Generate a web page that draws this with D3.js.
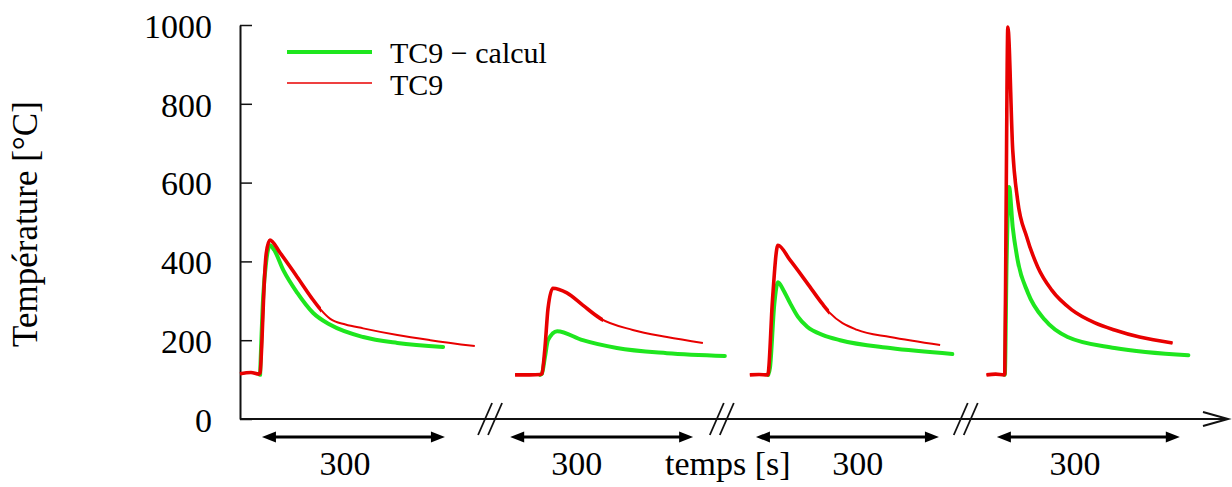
<!DOCTYPE html>
<html>
<head>
<meta charset="utf-8">
<script src="https://cdn.jsdelivr.net/npm/d3@7"></script>
<style>
  html, body { margin: 0; padding: 0; background: #fff; }
  svg { display: block; }
  text { font-family: "Liberation Serif", "Times New Roman", serif; fill: #000; }
</style>
</head>
<body>
<svg id="chart" width="1232" height="487"></svg>
<script>
// ---- Data (time in s relative to start of heating in each test, temperature in °C) ----
const yTicks = [0, 200, 400, 600, 800, 1000];
const seriesNames = ["TC9 \u2212 calcul", "TC9"];
const segmentOffsets = [33, 495, 866, 1254];     // position of each test on the broken time axis [s]
const breakPositions = [410, 790, 1190];        // axis breaks [s]
const arrowStarts = [36, 443, 846, 1241];       // start of each 300 s span [s]
const arrowSpan = 300;
const spanLabels = ["300", "300", "300", "300"];
const spanLabelPos = [172, 552, 1013, 1369];
const noisyUntil = [100, 100, 100, 280];        // measured signal visibly noisy up to this time [s]

// Measured (TC9)
const measT1 = [-33, -15, -2, 0, 3, 6, 10, 16, 33, 61, 87, 98, 115, 140, 169, 225, 279, 352];
const measV1 = [115, 118, 114, 118, 200, 320, 420, 454, 421, 360, 302, 280, 254, 240, 230, 213, 200, 185];
const measT2 = [-44, -20, -2, 0, 5, 10, 18, 41, 67, 95, 149, 205, 264];
const measV2 = [112, 112, 113, 115, 180, 280, 332, 320, 289, 256, 226, 208, 193];
const measT3 = [-30, -15, -1, 0, 7, 16, 36, 64, 90, 102, 146, 200, 282];
const measV3 = [112, 113, 112, 115, 300, 441, 403, 345, 290, 268, 226, 208, 188];
const measT4 = [-30, -15, -1, 0, 2, 5, 13, 21, 36, 54, 77, 110, 148, 180, 221, 275];
const measV4 = [112, 114, 112, 115, 500, 995, 683, 556, 462, 386, 327, 277, 244, 226, 208, 193];

// Computed (TC9 - calcul)
const calcT1 = [0, 5, 10, 16, 23, 38, 61, 87, 115, 169, 225, 300];
const calcV1 = [112, 310, 400, 441, 429, 378, 320, 269, 239, 208, 193, 183];
const calcT2 = [-3, 0, 5, 10, 25, 67, 123, 205, 300];
const calcV2 = [112, 115, 157, 200, 223, 200, 180, 167, 160];
const calcT3 = [0, 3, 10, 16, 25, 36, 49, 64, 90, 118, 200, 302];
const calcV3 = [112, 130, 290, 347, 327, 294, 259, 234, 213, 200, 180, 165];
const calcT4 = [-1, 0, 3, 7, 13, 21, 38, 66, 103, 180, 301];
const calcV4 = [112, 112, 400, 589, 487, 404, 320, 251, 208, 180, 162];

const measured = [[measT1, measV1], [measT2, measV2], [measT3, measV3], [measT4, measV4]];
const computed = [[calcT1, calcV1], [calcT2, calcV2], [calcT3, calcV3], [calcT4, calcV4]];

// ---- Layout ----
const svg = d3.select("#chart");
const colors = { calc: "#1ee61e", meas: "#e80000" };
const x = d3.scaleLinear().domain([0, 1620]).range([240, 1228]);
const y = d3.scaleLinear().domain([0, 1000]).range([419, 25]);
const FS = 34;

// ---- Y axis ----
const yAxis = d3.axisLeft(y)
  .tickValues(yTicks)
  .tickSizeInner(-12)
  .tickSizeOuter(0)
  .tickPadding(28)
  .tickFormat(d3.format("d"));
const gy = svg.append("g").attr("transform", `translate(${x(0)},0)`).call(yAxis);
gy.select(".domain").attr("stroke", "#111").attr("stroke-width", 2);
gy.selectAll(".tick line").attr("stroke", "#111").attr("stroke-width", 1.5);
gy.selectAll(".tick text")
  .attr("font-size", FS)
  .attr("font-family", "'Liberation Serif', 'Times New Roman', serif")
  .attr("fill", "#000")
  .attr("dy", "0.36em");

svg.append("text")
  .attr("transform", `translate(37,${(y(0) + y(1000)) / 2 + 2}) rotate(-90)`)
  .attr("text-anchor", "middle")
  .attr("font-size", 35)
  .text("Température [°C]");

// ---- X axis (broken time axis with arrow) ----
const axisY = y(0);
svg.append("line")
  .attr("x1", x(0)).attr("x2", x(1620) - 1)
  .attr("y1", axisY).attr("y2", axisY)
  .attr("stroke", "#111").attr("stroke-width", 2);
svg.append("path")
  .attr("d", `M${x(1620) - 25},${axisY - 7} L${x(1620)},${axisY} L${x(1620) - 25},${axisY + 7}`)
  .attr("fill", "none").attr("stroke", "#111").attr("stroke-width", 2);

breakPositions.forEach(b => {
  const cx = x(b);
  [-5, 5].forEach(d => {
    svg.append("line")
      .attr("x1", cx + d - 7).attr("y1", axisY + 16)
      .attr("x2", cx + d + 7).attr("y2", axisY - 16)
      .attr("stroke", "#111").attr("stroke-width", 1.8);
  });
});

// 300 s double arrows
const arrowY = 437;
arrowStarts.forEach(s => {
  const x1 = x(s), x2 = x(s + arrowSpan);
  const ah = 14, aw = 5.5;
  svg.append("line")
    .attr("x1", x1 + ah - 2).attr("x2", x2 - ah + 2)
    .attr("y1", arrowY).attr("y2", arrowY)
    .attr("stroke", "#000").attr("stroke-width", 3);
  svg.append("path")
    .attr("d", `M${x1},${arrowY} L${x1 + ah},${arrowY - aw} L${x1 + ah},${arrowY + aw} Z`)
    .attr("fill", "#000");
  svg.append("path")
    .attr("d", `M${x2},${arrowY} L${x2 - ah},${arrowY - aw} L${x2 - ah},${arrowY + aw} Z`)
    .attr("fill", "#000");
});
spanLabels.forEach((lab, i) => {
  svg.append("text")
    .attr("x", x(spanLabelPos[i])).attr("y", 475)
    .attr("text-anchor", "middle")
    .attr("font-size", FS)
    .text(lab);
});
svg.append("text")
  .attr("x", 665).attr("y", 475)
  .attr("font-size", FS)
  .text("temps [s]");

// ---- Curves ----
const line = d3.line()
  .x(d => x(d[0]))
  .y(d => y(d[1]))
  .curve(d3.curveMonotoneX);

function toPoints(pair, off) {
  return pair[0].map((t, i) => [off + t, pair[1][i]]);
}

const defs = svg.append("defs");
measured.forEach((pair, i) => {
  const t0 = segmentOffsets[i] + pair[0][0] - 5;
  const t1 = segmentOffsets[i] + noisyUntil[i];
  defs.append("clipPath").attr("id", "noisy" + i)
    .append("rect")
    .attr("x", x(t0)).attr("width", x(t1) - x(t0))
    .attr("y", 0).attr("height", 487);
});

computed.forEach((pair, i) => {
  svg.append("path")
    .datum(toPoints(pair, segmentOffsets[i]))
    .attr("d", line)
    .attr("fill", "none")
    .attr("stroke", colors.calc)
    .attr("stroke-width", 4)
    .attr("stroke-linejoin", "round")
    .attr("stroke-linecap", "round");
});
measured.forEach((pair, i) => {
  const pts = toPoints(pair, segmentOffsets[i]);
  svg.append("path")
    .datum(pts)
    .attr("d", line)
    .attr("fill", "none")
    .attr("stroke", colors.meas)
    .attr("stroke-width", 2)
    .attr("stroke-linejoin", "round");
  // thicker band where the measured signal is noisy
  svg.append("path")
    .datum(pts)
    .attr("d", line)
    .attr("clip-path", `url(#noisy${i})`)
    .attr("fill", "none")
    .attr("stroke", colors.meas)
    .attr("stroke-width", 3.6)
    .attr("stroke-linejoin", "round");
});

// ---- Legend ----
const legend = [
  { name: seriesNames[0], color: colors.calc, width: 4, ly: 52, ty: 63 },
  { name: seriesNames[1], color: colors.meas, width: 1.6, ly: 83, ty: 95 }
];
legend.forEach(e => {
  svg.append("line")
    .attr("x1", 287).attr("x2", 372)
    .attr("y1", e.ly).attr("y2", e.ly)
    .attr("stroke", e.color).attr("stroke-width", e.width);
  svg.append("text")
    .attr("x", 390).attr("y", e.ty)
    .attr("font-size", 30)
    .text(e.name);
});
</script>
</body>
</html>
